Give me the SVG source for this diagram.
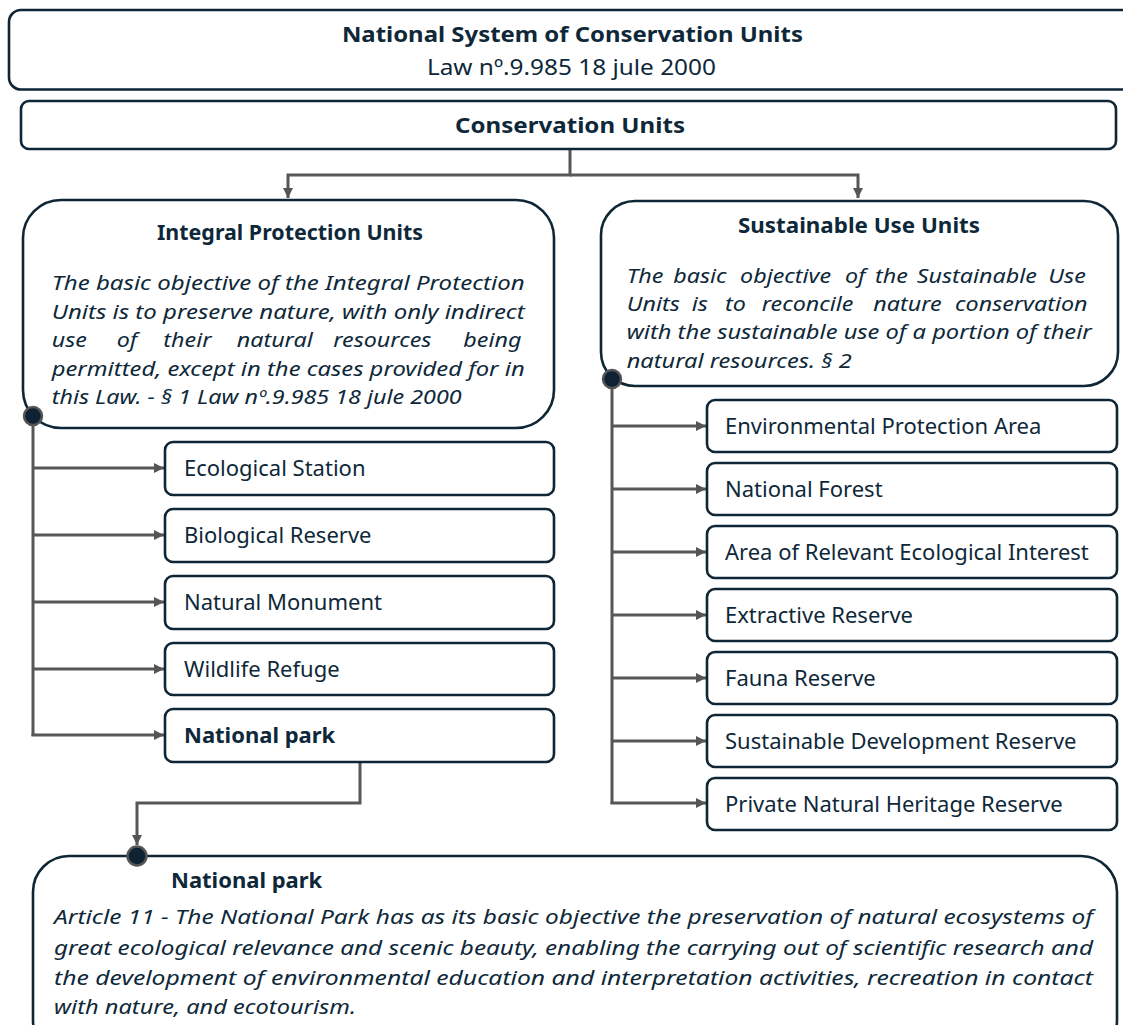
<svg xmlns="http://www.w3.org/2000/svg" width="1123" height="1025" viewBox="0 0 1123 1025">
<defs>
<marker id="arr" viewBox="0 0 10 10" refX="10" refY="5" markerWidth="10" markerHeight="10" markerUnits="userSpaceOnUse" orient="auto">
<path d="M0,0 L10,5 L0,10 z" fill="#555555"/>
</marker>
</defs>
<style>
.box{fill:#ffffff;stroke:#0f2636;stroke-width:2.6}
.t{font-family:"Noto Sans","Open Sans","Liberation Sans",sans-serif;fill:#0e2839;font-size:22px}
.b{font-weight:bold;font-size:22px}
.i{font-style:italic;font-size:20px}
.c{text-anchor:middle}
.ln{fill:none;stroke:#575757;stroke-width:3}
.dot{fill:#0e2233;stroke:#555555;stroke-width:2.5}
</style>
<rect width="1123" height="1025" fill="#ffffff"/>
<g id="connectors">
<path class="ln" d="M570,149 V175 H288 V198" marker-end="url(#arr)"/>
<path class="ln" d="M570,175 H858 V198" marker-end="url(#arr)"/>
<path class="ln" d="M33,416 V736"/>
<path class="ln" d="M33,468 H164" marker-end="url(#arr)"/>
<path class="ln" d="M33,535 H164" marker-end="url(#arr)"/>
<path class="ln" d="M33,602 H164" marker-end="url(#arr)"/>
<path class="ln" d="M33,669 H164" marker-end="url(#arr)"/>
<path class="ln" d="M31.5,735 H164" marker-end="url(#arr)"/>
<path class="ln" d="M612,379 V804"/>
<path class="ln" d="M612,426 H706" marker-end="url(#arr)"/>
<path class="ln" d="M612,489 H706" marker-end="url(#arr)"/>
<path class="ln" d="M612,552 H706" marker-end="url(#arr)"/>
<path class="ln" d="M612,615 H706" marker-end="url(#arr)"/>
<path class="ln" d="M612,678 H706" marker-end="url(#arr)"/>
<path class="ln" d="M612,741 H706" marker-end="url(#arr)"/>
<path class="ln" d="M610.5,803 H706" marker-end="url(#arr)"/>
<path class="ln" d="M360,762 V803 H137 V845" marker-end="url(#arr)"/>
</g>
<g id="sncu">
<rect class="box" x="9" y="10" width="1130" height="79.5" rx="12" stroke-width="3"/>
<text class="t b c" x="572.4" y="42" font-size="23" textLength="461" lengthAdjust="spacingAndGlyphs">National System of Conservation Units</text>
<text class="t c" x="571.4" y="75" font-size="23" textLength="289" lengthAdjust="spacingAndGlyphs">Law nº.9.985 18 jule 2000</text>
</g>
<g id="conservation-units">
<rect class="box" x="21" y="101" width="1095" height="48" rx="8"/>
<text class="t b c" x="570" y="133" font-size="23" textLength="230" lengthAdjust="spacingAndGlyphs">Conservation Units</text>
</g>
<g id="integral">
<rect class="box" x="23" y="200" width="531" height="228" rx="38"/>
<text class="t b c" x="290" y="240" textLength="266" lengthAdjust="spacingAndGlyphs">Integral Protection Units</text>
<text class="t i" x="51.7" y="290" textLength="473" lengthAdjust="spacingAndGlyphs">The basic objective of the Integral Protection</text>
<text class="t i" x="51.7" y="318.5" textLength="473" lengthAdjust="spacingAndGlyphs">Units is to preserve nature, with only indirect</text>
<g transform="translate(51.7,347.3) scale(1.165,1)">
<text class="t i" x="0" y="0">use</text>
<text class="t i" x="55.8" y="0">of</text>
<text class="t i" x="95.8" y="0">their</text>
<text class="t i" x="158.8" y="0">natural</text>
<text class="t i" x="241.7" y="0">resources</text>
<text class="t i" x="353.3" y="0">being</text>
</g>
<text class="t i" x="51.7" y="375.5" textLength="473" lengthAdjust="spacingAndGlyphs">permitted, except in the cases provided for in</text>
<text class="t i" x="51.7" y="404" textLength="410" lengthAdjust="spacingAndGlyphs">this Law. - § 1 Law nº.9.985 18 jule 2000</text>
<circle class="dot" cx="33" cy="416" r="9"/>
</g>
<g id="sustainable">
<rect class="box" x="601" y="201" width="517" height="185" rx="34"/>
<text class="t b c" x="859" y="233.3" textLength="242" lengthAdjust="spacingAndGlyphs">Sustainable Use Units</text>
<g transform="translate(626.7,282.7) scale(1.165,1)">
<text class="t i" x="0" y="0">The</text>
<text class="t i" x="40" y="0">basic</text>
<text class="t i" x="97.3" y="0">objective</text>
<text class="t i" x="187.4" y="0">of</text>
<text class="t i" x="213.1" y="0">the</text>
<text class="t i" x="248.9" y="0">Sustainable</text>
<text class="t i" x="361.9" y="0">Use</text>
</g>
<g transform="translate(626.7,311) scale(1.165,1)">
<text class="t i" x="0" y="0">Units</text>
<text class="t i" x="55.8" y="0">is</text>
<text class="t i" x="84.4" y="0">to</text>
<text class="t i" x="115.9" y="0">reconcile</text>
<text class="t i" x="211.7" y="0">nature</text>
<text class="t i" x="281.8" y="0">conservation</text>
</g>
<text class="t i" x="626.7" y="339.3" textLength="465" lengthAdjust="spacingAndGlyphs">with the sustainable use of a portion of their</text>
<text class="t i" x="626.7" y="367.7" textLength="225" lengthAdjust="spacingAndGlyphs">natural resources. § 2</text>
<circle class="dot" cx="612" cy="379" r="9"/>
</g>
<g id="ecological-station"><rect class="box" x="165" y="442" width="389" height="53" rx="8"/><text class="t" x="184" y="476">Ecological Station</text></g>
<g id="biological-reserve"><rect class="box" x="165" y="509" width="389" height="53" rx="8"/><text class="t" x="184" y="543">Biological Reserve</text></g>
<g id="natural-monument"><rect class="box" x="165" y="576" width="389" height="53" rx="8"/><text class="t" x="184" y="610">Natural Monument</text></g>
<g id="wildlife-refuge"><rect class="box" x="165" y="643" width="389" height="52" rx="8"/><text class="t" x="184" y="677">Wildlife Refuge</text></g>
<g id="national-park"><rect class="box" x="165" y="709" width="389" height="53" rx="8"/><text class="t b" x="184" y="743">National park</text></g>
<g id="env-protection-area"><rect class="box" x="707" y="400" width="410" height="52" rx="8"/><text class="t" x="725" y="434">Environmental Protection Area</text></g>
<g id="national-forest"><rect class="box" x="707" y="463" width="410" height="52" rx="8"/><text class="t" x="725" y="497">National Forest</text></g>
<g id="relevant-ecological-interest"><rect class="box" x="707" y="526" width="410" height="52" rx="8"/><text class="t" x="725" y="560">Area of Relevant Ecological Interest</text></g>
<g id="extractive-reserve"><rect class="box" x="707" y="589" width="410" height="52" rx="8"/><text class="t" x="725" y="623">Extractive Reserve</text></g>
<g id="fauna-reserve"><rect class="box" x="707" y="652" width="410" height="52" rx="8"/><text class="t" x="725" y="686">Fauna Reserve</text></g>
<g id="sustainable-development-reserve"><rect class="box" x="707" y="715" width="410" height="52" rx="8"/><text class="t" x="725" y="749">Sustainable Development Reserve</text></g>
<g id="private-natural-heritage-reserve"><rect class="box" x="707" y="778" width="410" height="52" rx="8"/><text class="t" x="725" y="812">Private Natural Heritage Reserve</text></g>
<g id="national-park-article">
<rect class="box" x="33" y="856" width="1084" height="200" rx="36"/>
<circle class="dot" cx="137" cy="856" r="9.5"/>
<text class="t b" x="171" y="888">National park</text>
<text class="t i" x="54" y="924" textLength="1039" lengthAdjust="spacingAndGlyphs">Article 11 - The National Park has as its basic objective the preservation of natural ecosystems of</text>
<text class="t i" x="54" y="954.5" textLength="1039" lengthAdjust="spacingAndGlyphs">great ecological relevance and scenic beauty, enabling the carrying out of scientific research and</text>
<text class="t i" x="54" y="984.5" textLength="1039" lengthAdjust="spacingAndGlyphs">the development of environmental education and interpretation activities, recreation in contact</text>
<text class="t i" x="54" y="1014" textLength="302" lengthAdjust="spacingAndGlyphs">with nature, and ecotourism.</text>
</g>
</svg>
